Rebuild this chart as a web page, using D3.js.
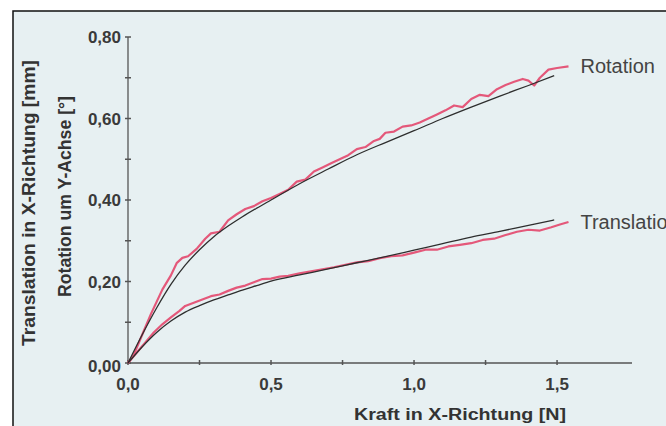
<!DOCTYPE html>
<html>
<head>
<meta charset="utf-8">
<script src="https://cdn.jsdelivr.net/npm/d3@7"></script>
<style>
  body { margin: 0; background: #fff; }
  svg { display: block; }
  text { font-family: "Liberation Sans", Arial, sans-serif; }
</style>
</head>
<body>
<svg width="666" height="426"></svg>
<script>
// Kraft [N] vs. Verschiebung - fitted curves (black) and measured (red)
var rotFit = [
  [0, 0], [0.05, 0.07], [0.1, 0.135], [0.15, 0.193], [0.2, 0.24],
  [0.25, 0.278], [0.3, 0.31], [0.35, 0.336], [0.4, 0.359], [0.45, 0.38],
  [0.5, 0.4], [0.6, 0.44], [0.7, 0.476], [0.8, 0.511], [0.9, 0.541],
  [1.0, 0.57], [1.1, 0.6], [1.2, 0.628], [1.3, 0.655], [1.4, 0.681], [1.49, 0.705]
];
var rotMeas = [
  [0, 0], [0.02, 0.02], [0.05, 0.07], [0.08, 0.12], [0.1, 0.15], [0.12, 0.18],
  [0.15, 0.215], [0.17, 0.245], [0.19, 0.258], [0.21, 0.262], [0.24, 0.28],
  [0.27, 0.305], [0.29, 0.318], [0.32, 0.322], [0.35, 0.35], [0.38, 0.365],
  [0.41, 0.378], [0.44, 0.385], [0.47, 0.397], [0.5, 0.405], [0.53, 0.415],
  [0.56, 0.425], [0.59, 0.445], [0.62, 0.45], [0.65, 0.47], [0.68, 0.48],
  [0.71, 0.49], [0.74, 0.5], [0.77, 0.51], [0.8, 0.525], [0.83, 0.53],
  [0.86, 0.545], [0.88, 0.55], [0.9, 0.565], [0.93, 0.568], [0.96, 0.58],
  [0.99, 0.583], [1.02, 0.59], [1.05, 0.6], [1.08, 0.61], [1.11, 0.62],
  [1.14, 0.632], [1.17, 0.628], [1.2, 0.648], [1.23, 0.658], [1.26, 0.655],
  [1.29, 0.672], [1.32, 0.682], [1.35, 0.69], [1.38, 0.697], [1.4, 0.693],
  [1.42, 0.681], [1.44, 0.7], [1.47, 0.72], [1.5, 0.724], [1.54, 0.728]
];
var transFit = [
  [0, 0], [0.05, 0.04], [0.1, 0.075], [0.15, 0.103], [0.2, 0.125],
  [0.25, 0.141], [0.3, 0.155], [0.35, 0.167], [0.4, 0.179], [0.45, 0.19],
  [0.5, 0.201], [0.6, 0.216], [0.7, 0.231], [0.8, 0.246], [0.9, 0.261],
  [1.0, 0.277], [1.1, 0.293], [1.2, 0.309], [1.3, 0.323], [1.4, 0.338], [1.49, 0.351]
];
var transMeas = [
  [0, 0], [0.03, 0.025], [0.06, 0.05], [0.09, 0.075], [0.12, 0.095],
  [0.15, 0.112], [0.18, 0.128], [0.2, 0.14], [0.23, 0.148], [0.26, 0.156],
  [0.29, 0.164], [0.32, 0.168], [0.35, 0.177], [0.38, 0.185], [0.41, 0.19],
  [0.44, 0.198], [0.47, 0.206], [0.5, 0.207], [0.53, 0.212], [0.56, 0.214],
  [0.6, 0.22], [0.64, 0.225], [0.68, 0.23], [0.72, 0.235], [0.76, 0.241],
  [0.8, 0.247], [0.84, 0.25], [0.88, 0.257], [0.92, 0.262], [0.96, 0.264],
  [1.0, 0.271], [1.04, 0.278], [1.08, 0.278], [1.12, 0.286], [1.16, 0.29],
  [1.2, 0.294], [1.24, 0.302], [1.28, 0.305], [1.32, 0.314], [1.36, 0.322],
  [1.4, 0.327], [1.44, 0.325], [1.48, 0.333], [1.51, 0.34], [1.54, 0.346]
];
var xTicks = [0, 0.5, 1.0, 1.5];
var xMinor = [0.25, 0.75, 1.25];
var yTicks = [0, 0.2, 0.4, 0.6, 0.8];
var yMinor = [0.1, 0.3, 0.5, 0.7];
var seriesLabels = ["Rotation", "Translation"];

var svg = d3.select('svg');

// panel background with top/left frame
svg.append('rect')
  .attr('x', 13).attr('y', 11)
  .attr('width', 660).attr('height', 420)
  .attr('fill', '#e7f0f2');
svg.append('path')
  .attr('d', 'M13,431V11H666')
  .attr('fill', 'none')
  .attr('stroke', '#111')
  .attr('stroke-width', 1.5);

var x = d3.scaleLinear().domain([0, 1.762]).range([128, 632]);
var y = d3.scaleLinear().domain([0, 0.8]).range([363, 37]);

var fmt = function(d, n) { return d.toFixed(n).replace('.', ','); };
var axisColor = '#555';

// axes lines
svg.append('line')
  .attr('x1', x(0)).attr('x2', x(1.762))
  .attr('y1', y(0)).attr('y2', y(0))
  .attr('stroke', axisColor).attr('stroke-width', 1.3);
svg.append('line')
  .attr('x1', x(0)).attr('x2', x(0))
  .attr('y1', y(0)).attr('y2', y(0.8))
  .attr('stroke', axisColor).attr('stroke-width', 1.3);

svg.selectAll('.xt').data(xTicks.concat(xMinor)).enter().append('line')
  .attr('x1', function(d) { return x(d); })
  .attr('x2', function(d) { return x(d); })
  .attr('y1', y(0) - 3).attr('y2', y(0) + 2)
  .attr('stroke', axisColor).attr('stroke-width', 1.5);
svg.selectAll('.yt').data(yTicks.concat(yMinor)).enter().append('line')
  .attr('x1', x(0) - 3).attr('x2', x(0) + 3)
  .attr('y1', function(d) { return y(d); })
  .attr('y2', function(d) { return y(d); })
  .attr('stroke', axisColor).attr('stroke-width', 1.5);

svg.selectAll('.xl').data(xTicks).enter().append('text')
  .attr('x', function(d) { return x(d); })
  .attr('y', 390)
  .attr('text-anchor', 'middle')
  .attr('font-size', 17).attr('font-weight', 'bold')
  .attr('fill', '#3a3a3a')
  .text(function(d) { return fmt(d, 1); });
svg.selectAll('.yl').data(yTicks).enter().append('text')
  .attr('x', 121)
  .attr('y', function(d) { return y(d) + (d === 0 ? 9 : 6); })
  .attr('text-anchor', 'end')
  .attr('font-size', 17).attr('font-weight', 'bold')
  .attr('fill', '#3a3a3a')
  .text(function(d) { return fmt(d, 2); });

// axis titles
svg.append('text')
  .attr('x', 354).attr('y', 420)
  .attr('textLength', 212).attr('lengthAdjust', 'spacingAndGlyphs')
  .attr('font-size', 16).attr('font-weight', 'bold')
  .attr('fill', '#333')
  .text('Kraft in X-Richtung [N]');
svg.append('text')
  .attr('transform', 'translate(35,346) rotate(-90)')
  .attr('textLength', 286).attr('lengthAdjust', 'spacingAndGlyphs')
  .attr('font-size', 18).attr('font-weight', 'bold')
  .attr('fill', '#333')
  .text('Translation in X-Richtung [mm]');
svg.append('text')
  .attr('transform', 'translate(71,297) rotate(-90)')
  .attr('textLength', 201).attr('lengthAdjust', 'spacingAndGlyphs')
  .attr('font-size', 18).attr('font-weight', 'bold')
  .attr('fill', '#333')
  .text('Rotation um Y-Achse [°]');

// curves
var line = d3.line()
  .x(function(d) { return x(d[0]); })
  .y(function(d) { return y(d[1]); });
var smooth = d3.line()
  .curve(d3.curveMonotoneX)
  .x(function(d) { return x(d[0]); })
  .y(function(d) { return y(d[1]); });

[rotMeas, transMeas].forEach(function(s) {
  svg.append('path').datum(s)
    .attr('d', line)
    .attr('fill', 'none')
    .attr('stroke', '#e4587a')
    .attr('stroke-width', 2.2)
    .attr('stroke-linejoin', 'round');
});
[rotFit, transFit].forEach(function(s) {
  svg.append('path').datum(s)
    .attr('d', smooth)
    .attr('fill', 'none')
    .attr('stroke', '#2e2e2e')
    .attr('stroke-width', 1.3);
});

// series labels at the end of measured curves
var ends = [rotMeas[rotMeas.length - 1], transMeas[transMeas.length - 1]];
svg.selectAll('.sl').data(seriesLabels).enter().append('text')
  .attr('x', function(d, i) { return x(ends[i][0]) + 12; })
  .attr('y', function(d, i) { return y(ends[i][1]) + 7; })
  .attr('font-size', 20)
  .attr('fill', '#444')
  .text(function(d) { return d; });
</script>
</body>
</html>
